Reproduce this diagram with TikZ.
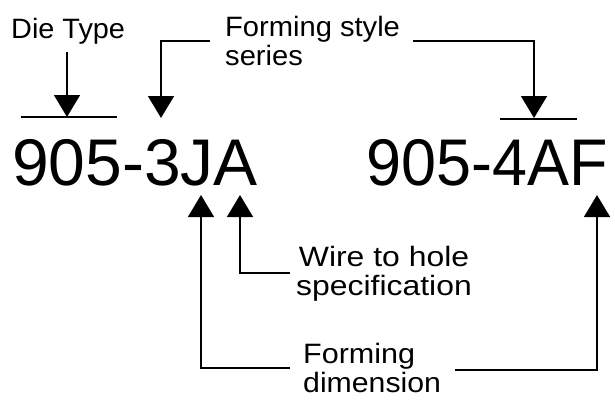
\documentclass[tikz,border=0pt]{standalone}
\usepackage{fontspec}
\setmainfont{Liberation Sans}
\usetikzlibrary{arrows.meta}
\newcommand{\wx}[2]{\scalebox{#1}[1]{#2}}
\tikzset{
  lbl/.style={inner sep=0pt, anchor=base west, align=left, font=\fontsize{28}{29}\selectfont},
  big/.style={inner sep=0pt, anchor=base west, font=\fontsize{66}{70}\selectfont},
  conn/.style={line width=1.6pt, -{Triangle[length=22pt,width=26pt]}},
  barline/.style={line width=1.6pt}
}
\begin{document}
\begin{tikzpicture}[x=1pt,y=-1pt]
\useasboundingbox (0,0) rectangle (615,400);
% big codes
\node[big] (c1) at (12,185) {905-3JA};
\node[big] (c2) at (366.5,185) {\wx{0.953}{905-4AF}};
% labels
\node[lbl] (die) at (11,38) {\wx{1.03}{Die Type}};
\node[lbl] (fs) at (225,65) {\wx{1.04}{Forming style}\\\wx{1.04}{series}};
\node[lbl, align=center] (wire) at (296,295) {\wx{1.14}{Wire to hole}\\\wx{1.14}{specification}};
\node[lbl] (fd) at (303,392) {\wx{1.09}{Forming}\\\wx{1.08}{dimension}};
% coordinates
\coordinate (dieS) at (67,52);
\coordinate (dieT) at (67,117);
\coordinate (fsL) at (210,41);
\coordinate (fsLT) at (161,118);
\coordinate (fsR) at (413,41);
\coordinate (fsRT) at (534,118);
\coordinate (wS) at (290,273);
\coordinate (wT) at (240,195);
\coordinate (fdL) at (290,368);
\coordinate (fdLT) at (201,195);
\coordinate (fdR) at (455,370);
\coordinate (fdRT) at (597,195);
% bars
\draw[barline] (21,117) -- (117,117);
\draw[barline] (500,119) -- (577,119);
% connectors
\draw[conn] (dieS) -- (dieT);
\draw[conn] (fsL) -| (fsLT);
\draw[conn] (fsR) -| (fsRT);
\draw[conn] (wS) -| (wT);
\draw[conn] (fdL) -| (fdLT);
\draw[conn] (fdR) -| (fdRT);
\end{tikzpicture}
\end{document}
